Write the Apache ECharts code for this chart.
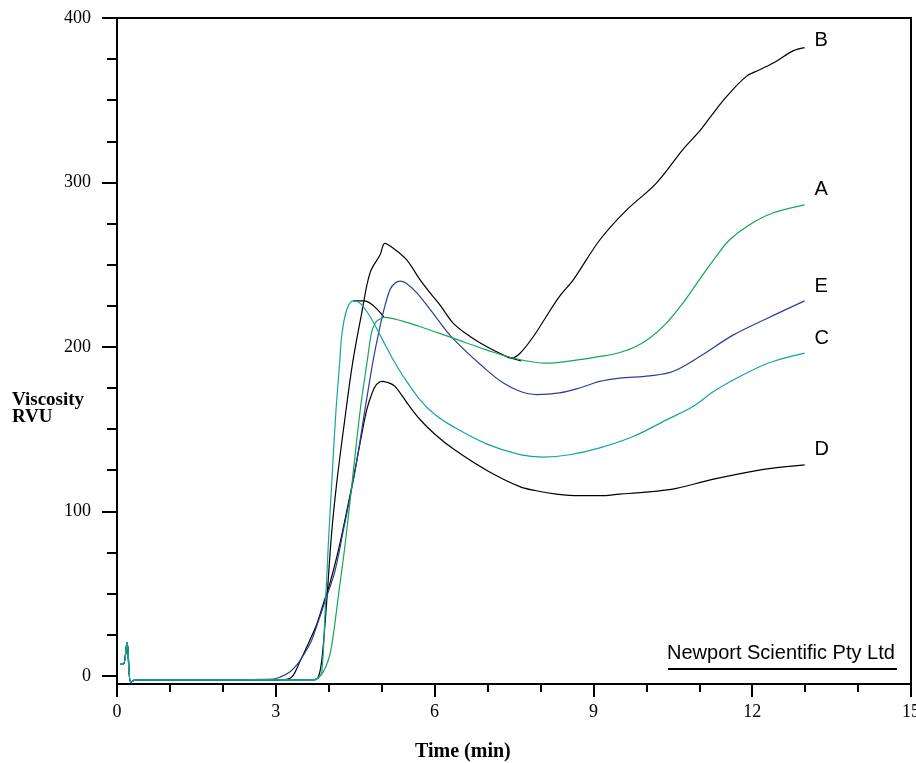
<!DOCTYPE html>
<html>
<head>
<meta charset="utf-8">
<script src="https://cdn.jsdelivr.net/npm/echarts@6/dist/echarts.min.js"></script>
<style>
html,body{margin:0;padding:0;background:#fff;}
#chart{width:916px;height:763px;}
</style>
</head>
<body>
<div id="chart"></div>
<script>
// Tick values
const xTicks = [0, 3, 6, 9, 12, 15];
const yMajorTicks = [0, 100, 200, 300, 400];
const yMinorTicks = [25, 50, 75, 125, 150, 175, 225, 250, 275, 325, 350, 375];

// Curves: [time (min), viscosity (RVU)]
const curveB = [[0.06,7],[0.12,7],[0.19,20],[0.26,-4],[0.35,-2.5],[1.5,-2.5],[3.0,-2.5],[3.7,-2.5],[3.8,-1],[3.87,10],[3.95,40],[4.05,85],[4.15,117],[4.3,155],[4.45,190],[4.62,220],[4.78,245],[4.97,256],[5.06,263],[5.22,260],[5.47,253],[5.72,241],[5.91,233],[6.1,225.6],[6.35,214.5],[6.67,206.3],[6.98,200.2],[7.29,195.2],[7.45,193.2],[7.61,196],[7.86,206],[8.11,218.5],[8.36,230.7],[8.62,240.8],[9.12,265],[9.62,283],[10.19,299.6],[10.69,320],[11.0,331],[11.19,339],[11.51,352],[11.89,364.5],[12.14,368.5],[12.45,373.6],[12.77,380],[12.99,382]];
const curveA = [[0.06,7],[0.12,7],[0.19,20],[0.26,-4],[0.35,-2.5],[1.5,-2.5],[3.0,-2.5],[3.7,-2.5],[3.84,0],[3.95,6],[4.03,14],[4.1,28],[4.18,48],[4.31,80],[4.45,120],[4.6,163],[4.73,192],[4.81,209],[4.88,214.5],[4.94,216.5],[5.06,218],[5.41,215.5],[5.72,212.4],[6.35,205.3],[6.98,198.2],[7.48,193.2],[8.11,190.1],[8.74,192.2],[9.12,194.2],[9.37,195.5],[9.75,199.5],[10.06,205.3],[10.38,214.5],[10.69,226.6],[11.0,240.8],[11.32,255],[11.57,265],[11.95,274.3],[12.39,281.4],[12.99,286.4]];
const curveE = [[0.06,7],[0.12,7],[0.19,20],[0.26,-4],[0.35,-2.5],[1.5,-2.5],[2.95,-2],[3.1,-0.5],[3.27,2.5],[3.42,7.5],[3.55,14],[3.67,21],[3.77,30],[3.96,48],[4.12,64],[4.28,89],[4.5,125],[4.7,165],[4.84,192],[4.94,208],[5.03,221],[5.16,235],[5.26,239],[5.35,240],[5.45,239],[5.66,233],[5.91,223],[6.35,205],[6.98,186],[7.3,178],[7.61,173],[7.92,171],[8.36,172],[8.74,175],[9.12,179],[9.5,181],[10.06,182.4],[10.5,185],[11.0,194],[11.63,207],[12.26,217],[12.99,228]];
const curveC = [[0.06,7],[0.12,7],[0.19,20],[0.26,-4],[0.35,-2.5],[1.5,-2.5],[3.0,-2.5],[3.7,-2.5],[3.8,-1.5],[3.87,2.5],[3.93,38],[3.99,78.6],[4.06,119],[4.13,158],[4.21,192],[4.25,208],[4.34,222.6],[4.46,228],[4.59,226.6],[4.78,218.5],[5.03,203.5],[5.22,192],[5.41,182],[5.72,168],[6.0,159],[6.35,151.5],[6.98,141],[7.61,134.5],[8.05,133],[8.55,134.4],[9.12,138.6],[9.75,145.5],[10.38,155.6],[10.88,163.7],[11.32,173.9],[11.95,185],[12.39,191.1],[12.99,196.2]];
const curveD = [[0.06,7],[0.12,7],[0.19,20],[0.26,-4],[0.35,-2.5],[1.5,-2.5],[3.0,-2.5],[3.27,-1.5],[3.46,9],[3.62,20],[3.77,31],[3.9,44],[4.02,56],[4.18,76],[4.32,97],[4.46,119],[4.6,143],[4.72,162],[4.82,172],[4.9,177],[5.0,179],[5.1,178.5],[5.25,176],[5.5,165],[5.72,156],[6.0,147],[6.35,138],[6.98,125],[7.61,115],[7.92,112.5],[8.3,110.5],[8.74,109.5],[9.12,109.5],[9.5,110.5],[9.94,111.5],[10.57,114],[11.19,119],[11.95,124],[12.39,126.3],[12.99,128.3]];
// short black connecting strokes seen in the trace
const strokePeak = [[4.46,228],[4.67,228],[5.04,218.3]];
const strokeTrough = [[7.45,193.2],[7.64,191.4]];

const labelFont = {color:'#000', fontFamily:'Liberation Sans', fontSize:20};
function lineSeries(name, data, color, labelOffset) {
  return {
    name: name, type:'line', data: data, showSymbol:false, smooth:0.35,
    lineStyle:{color:color, width:1.2}, itemStyle:{color:color},
    endLabel: labelOffset ? Object.assign({show:true, formatter:'{a}', distance:10, offset:labelOffset}, labelFont) : {show:false},
    silent:true, z:2
  };
}

const chart = echarts.init(document.getElementById('chart'), null, {renderer:'canvas'});
const axisColor = '#000';
chart.setOption({
  animation:false,
  backgroundColor:'#fff',
  grid:{left:117, top:18, width:794, height:666, show:true, borderColor:axisColor, borderWidth:2, backgroundColor:'transparent', containLabel:false, outerBoundsMode:'none'},
  xAxis:{
    type:'value', min:0, max:15, interval:3,
    axisLine:{show:true, onZero:false, lineStyle:{color:axisColor, width:2}},
    axisTick:{show:true, length:13, lineStyle:{color:axisColor, width:2}},
    minorTick:{show:true, splitNumber:3, length:8, lineStyle:{color:axisColor, width:2}},
    axisLabel:{margin:19, color:'#000', fontFamily:'Liberation Serif', fontSize:18, customValues:xTicks},
    splitLine:{show:false}, minorSplitLine:{show:false}
  },
  yAxis:[{
    type:'value', min:-5, max:400, position:'left',
    axisLine:{show:true, onZero:false, lineStyle:{color:axisColor, width:2}},
    axisTick:{show:true, length:15, customValues:yMajorTicks, lineStyle:{color:axisColor, width:2}},
    axisLabel:{margin:26, color:'#000', fontFamily:'Liberation Serif', fontSize:18, customValues:yMajorTicks},
    splitLine:{show:false}
  },{
    type:'value', min:-5, max:400, position:'left',
    axisLine:{show:false},
    axisTick:{show:true, length:10, customValues:yMinorTicks, lineStyle:{color:axisColor, width:2}},
    axisLabel:{show:false},
    splitLine:{show:false}
  }],
  graphic:[
    {type:'text', left:12, top:391, style:{text:'Viscosity', fill:'#000', font:'bold 19px "Liberation Serif"'}},
    {type:'text', left:12, top:408, style:{text:'RVU', fill:'#000', font:'bold 19px "Liberation Serif"'}},
    {type:'text', left:415, top:742, style:{text:'Time (min)', fill:'#000', font:'bold 20px "Liberation Serif"'}},
    {type:'text', left:667, top:643, style:{text:'Newport Scientific Pty Ltd', fill:'#000', font:'20px "Liberation Sans"'}},
    {type:'line', shape:{x1:668, y1:669, x2:897, y2:669}, style:{stroke:'#000', lineWidth:2}}
  ],
  series:[
    lineSeries('B', curveB, '#000000', [0,-7]),
    lineSeries('D', curveD, '#000000', [0,-15]),
    lineSeries('', strokePeak, '#000000', null),
    lineSeries('', strokeTrough, '#000000', null),
    lineSeries('E', curveE, '#2d3c9c', [0,-14]),
    lineSeries('A', curveA, '#12a656', [0,-15]),
    lineSeries('C', curveC, '#14a39e', [0,-15])
  ]
});
</script>
</body>
</html>
